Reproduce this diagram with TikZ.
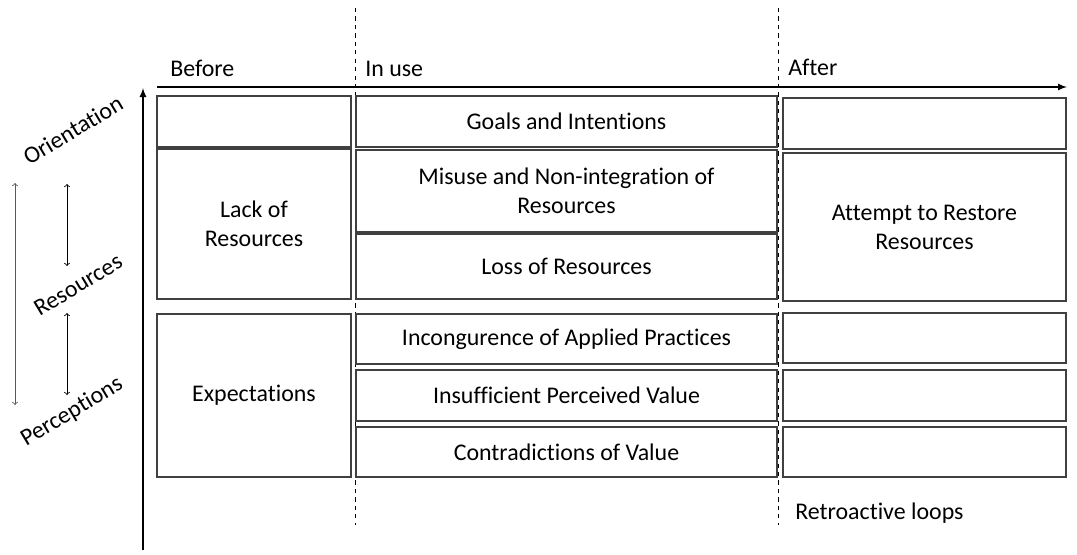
\documentclass[tikz,border=0pt]{standalone}
\usepackage{fontspec}
\setmainfont{Carlito}[Ligatures=NoCommon]
\usepackage{tikz}
\usetikzlibrary{positioning, arrows, backgrounds, fit}

\begin{document}
\begin{tikzpicture}[x=0.025cm, y=-0.025cm]
\tikzstyle{phase}=[draw=black!75, line width=0.9pt, rectangle, align=center, font=\fontsize{17}{20.7}\selectfont]
\tikzstyle{txt}=[font=\fontsize{17}{20.7}\selectfont, inner sep=0pt]
\tikzstyle{level}=[font=\fontsize{17}{20.7}\selectfont, rotate=31, inner sep=0pt]
\tikzstyle{axis}=[draw, -latex, line width=1.2pt]
\tikzstyle{split}=[draw, dashed, line width=0.5pt]
\tikzstyle{loop}=[draw, <->, line width=0.6pt]

\useasboundingbox (0,0) rectangle (1077,554);

% axes and phase separators
\coordinate (origin) at (143,550);
\coordinate (top) at (143,88);
\coordinate (start) at (157,87);
\coordinate (end) at (1067,87);
\path[axis] (origin) -- (top);
\path[axis] (start) -- (end);
\coordinate (sep1-t) at (355,8);
\coordinate (sep1-b) at (355,525);
\coordinate (sep2-t) at (778,8);
\coordinate (sep2-b) at (778,525);
\path[split] (sep1-t) -- (sep1-b);
\path[split] (sep2-t) -- (sep2-b);

\node[txt, anchor=base west](before) at (170,76) {Before};
\node[txt, anchor=base west](inuse) at (365,76) {In use};
\node[txt, anchor=base west](after) at (788,75) {After};

% before
\node[phase, minimum width=4.85cm, minimum height=1.275cm](before-o) at (254,121.5) {};
\node[phase, minimum width=4.85cm, minimum height=3.75cm](lack) at (254,224) {Lack of\\Resources};
\node[phase, minimum width=4.85cm, minimum height=4.075cm](expect) at (254,395.5) {Expectations};

% in use
\node[phase, minimum width=10.525cm, minimum height=1.275cm](goals) at (566.5,121.5) {Goals and Intentions};
\node[phase, minimum width=10.525cm, minimum height=2.05cm](misuse) at (566.5,191) {Misuse and Non-integration of\\Resources};
\node[phase, minimum width=10.525cm, minimum height=1.625cm](loss) at (566.5,266.5) {Loss of Resources};
\node[phase, minimum width=10.525cm, minimum height=1.25cm](incong) at (566.5,339) {Incongurence of Applied Practices};
\node[phase, minimum width=10.525cm, minimum height=1.275cm](insuff) at (566.5,395.5) {Insufficient Perceived Value};
\node[phase, minimum width=10.525cm, minimum height=1.25cm](contra) at (566.5,452) {Contradictions of Value};

% after
\node[phase, minimum width=7.075cm, minimum height=1.275cm](after-o) at (924.5,123.5) {};
\node[phase, minimum width=7.075cm, minimum height=3.7cm](restore) at (924.5,227) {Attempt to Restore\\Resources};
\node[phase, minimum width=7.075cm, minimum height=1.25cm](after-p1) at (924.5,338) {};
\node[phase, minimum width=7.075cm, minimum height=1.275cm](after-p2) at (924.5,395.5) {};
\node[phase, minimum width=7.075cm, minimum height=1.25cm](after-p3) at (924.5,452) {};

\node[txt, anchor=west](retro) at (795,513) {Retroactive loops};

% levels
\node[level](orient) at (73,130) {Orientation};
\node[level](resrc) at (78,285) {Resources};
\node[level](percep) at (72,412) {Perceptions};
\coordinate (long-t) at (15,183);
\coordinate (long-b) at (15,405);
\coordinate (or-t) at (67,184);
\coordinate (or-b) at (67,266);
\coordinate (pe-t) at (67,313);
\coordinate (pe-b) at (67,395);
\path[loop, draw=black!65] (long-t) -- (long-b);
\path[loop] (or-t) -- (or-b);
\path[loop] (pe-t) -- (pe-b);

\end{tikzpicture}
\end{document}
